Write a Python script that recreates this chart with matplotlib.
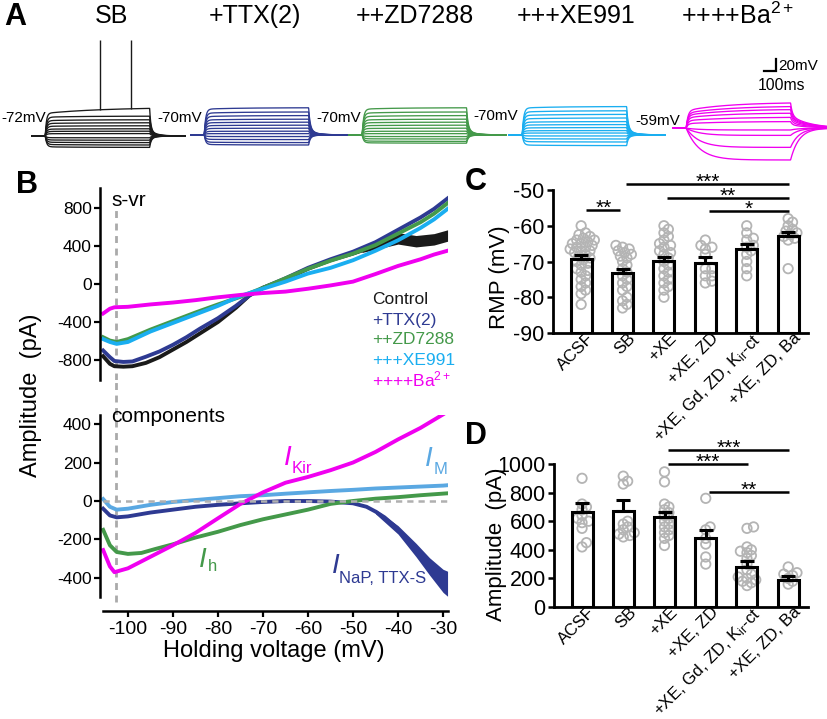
import numpy as np
import matplotlib
matplotlib.use('Agg')
import matplotlib.pyplot as plt
import matplotlib.transforms as mtransforms

plt.rcParams['font.family'] = ['Liberation Sans', 'DejaVu Sans']
plt.rcParams['mathtext.fontset'] = 'custom'
plt.rcParams['mathtext.rm'] = 'Liberation Sans'
plt.rcParams['mathtext.it'] = 'Liberation Sans:italic'
plt.rcParams['mathtext.bf'] = 'Liberation Sans:bold'
plt.rcParams['axes.unicode_minus'] = False

# ---------------- DATA ----------------
# Panel A: current-clamp sweeps
a_titles = ['SB', '+TTX(2)', '++ZD7288', '+++XE991', '++++Ba$^{2+}$']
a_rmp_labels = ['-72mV', '-70mV', '-70mV', '-70mV', '-59mV']
a_baseline_mv = [-72, -70, -70, -70, -59]
a_start_ms = [267, 1592, 2908, 4242, 5608]
a_sweep_ms = [1275, 1300, 1310, 1300, 1292]
a_onset_ms = 110
a_pulse_ms = 870
a_steps_mv = [
    [46, 33, 27, 22, 17, 12, 8, 4, -3, -7, -11, -15, -19],
    [45, 38, 32, 26, 21, 16, 11, 6, 2, -3, -8, -13, -17],
    [45, 38, 32, 26, 21, 16, 11, 6, 2, -3, -7, -11, -14],
    [47, 40, 34, 28, 22, 17, 12, 7, 3, -2, -7, -12, -18],
    [42, 36, 31, 25, 18, 11, -3, -12, -32, -53],
]
sb_spike_ms = [458, 717]
sb_spike_peak_mv = 88

# Panel B top: steady-state I-V (s-vr)
v_ctrl = [-105.5, -104, -103, -101, -99, -96, -93, -90, -87, -84, -80, -76, -73, -70, -65, -60, -55, -50, -45, -42, -40, -37, -35, -32, -29]
i_ctrl = [-760, -840, -865, -870, -865, -830, -770, -690, -610, -520, -400, -250, -120, -40, 50, 160, 250, 320, 400, 460, 480, 470, 430, 470, 510]
ctrl_band_v = [-48, -44, -40, -36, -32, -29]
ctrl_band_hw = [20, 45, 60, 60, 60, 60]
v_ttx = [-105.5, -104, -103, -101, -99, -96, -93, -90, -87, -84, -80, -76, -73, -70, -65, -60, -55, -50, -45, -40, -35, -32, -29]
i_ttx = [-700, -770, -810, -820, -815, -765, -710, -640, -560, -470, -360, -230, -120, -40, 60, 170, 260, 340, 440, 570, 700, 790, 900]
v_zd = [-105.5, -104, -102.5, -100, -95, -90, -85, -80, -75, -70, -65, -60, -55, -50, -45, -40, -35, -32, -29]
i_zd = [-560, -595, -610, -580, -480, -390, -300, -215, -135, -40, 60, 160, 245, 320, 410, 530, 650, 740, 850]
v_xe = [-105.5, -104, -102.5, -100, -95, -90, -85, -80, -75, -70, -65, -60, -55, -50, -45, -40, -35, -32, -29]
i_xe = [-580, -610, -630, -610, -500, -410, -320, -230, -125, -50, 25, 110, 170, 250, 350, 460, 590, 680, 790]
v_ba = [-105.5, -104, -103, -100, -95, -90, -85, -80, -75, -70, -65, -60, -55, -50, -45, -40, -35, -32, -29]
i_ba = [-310, -260, -245, -240, -215, -195, -170, -140, -115, -95, -80, -50, -15, 25, 105, 190, 260, 310, 350]
legend_labels = ['Control', '+TTX(2)', '++ZD7288', '+++XE991', '++++Ba$^{2+}$']

# Panel B bottom: subtracted components
v_kir = [-105.5, -104, -103, -100, -95, -90, -85, -80, -75, -70, -65, -60, -55, -50, -45, -40, -35, -30, -29]
i_kir = [-255, -340, -370, -350, -290, -230, -166, -90, -15, 45, 95, 125, 160, 200, 255, 320, 380, 450, 465]
v_h = [-105.5, -104, -102.5, -100, -97, -94, -90, -85, -80, -75, -70, -65, -60, -55, -50, -45, -40, -35, -29]
i_h = [-150, -230, -265, -275, -270, -250, -225, -190, -160, -125, -95, -70, -45, -15, 0, 12, 20, 30, 40]
v_m = [-105.5, -104, -102.5, -100, -95, -90, -85, -80, -75, -70, -65, -60, -55, -50, -45, -40, -35, -30, -29]
i_m = [10, -30, -45, -40, -20, -5, 5, 15, 25, 30, 38, 45, 52, 58, 65, 70, 75, 80, 82]
v_nap = [-105.5, -104, -102.5, -100, -95, -90, -85, -80, -75, -70, -65, -60, -55, -50, -47, -45, -43, -41, -39, -37, -35, -33, -31, -29]
i_nap = [-40, -75, -85, -80, -60, -45, -30, -20, -12, -5, 0, 0, -3, -12, -30, -55, -85, -125, -175, -225, -285, -340, -400, -430]
nap_band_v = [-45, -40, -36, -33, -30, -29]
nap_band_hw = [12, 22, 35, 45, 60, 65]

# Panels C and D: groups
groups = ['ACSF', 'SB', '+XE', '+XE, ZD', '+XE, Gd, ZD, K$_{\\mathrm{ir}}$-ct', '+XE, ZD, Ba']
rmp_mean = [-69.3, -73.1, -69.9, -70.4, -66.6, -62.9]
rmp_sem = [1.1, 1.1, 1.2, 1.7, 1.4, 1.2]
rmp_points = [
    [-60, -62, -62.5, -63, -63.5, -64, -64, -64.5, -65, -65, -65.5, -66, -66, -66.5, -67, -67, -67.5, -68,
     -68.5, -69, -69.5, -70, -70.5, -71, -72, -72.5, -73, -74, -75, -76, -77, -78, -79, -82],
    [-65.5, -66, -66.5, -67, -67.5, -68, -68.5, -69, -70, -71, -72, -73, -74, -75, -76, -77, -78, -80, -81, -82, -83],
    [-60, -61, -62, -63, -64, -65, -65.5, -66, -67, -67.5, -68, -69, -70, -71, -72, -73, -74, -75, -76, -77, -78, -80],
    [-64, -65.5, -66, -66.5, -68, -72, -72, -74, -74, -75.5, -76],
    [-60, -62, -63.5, -64, -65.5, -66, -67, -68, -70, -72, -74],
    [-58, -59, -60, -61, -61.5, -62, -62.5, -63, -63.5, -64, -72],
]
rmp_sig = [(0, 1, -55.6, '**'), (1, 5, -48.3, '***'), (2, 5, -52.1, '**'), (3, 5, -55.8, '*')]

amp_mean = [663, 673, 627, 482, 283, 192]
amp_sem = [63, 72, 40, 56, 42, 24]
amp_points = [
    [900, 720, 700, 680, 640, 620, 600, 590, 550, 450, 420],
    [915, 880, 860, 600, 580, 560, 540, 520, 510, 500, 490],
    [945, 875, 720, 700, 680, 660, 640, 620, 600, 580, 560, 540, 520, 500, 480, 430],
    [760, 560, 540, 480, 440, 350, 300],
    [560, 550, 420, 400, 390, 380, 360, 340, 300, 260, 230, 210, 200, 190, 180, 170, 150],
    [280, 240, 230, 220, 200, 180, 160],
]
amp_sig = [(2, 5, 1100, '***'), (2, 4, 1002, '***'), (3, 5, 805, '**')]

# ---------------- STYLE ----------------
C_BLACK = '#1a1a1a'
C_BLUE = '#2e3a92'
C_GREEN = '#44994a'
C_CYAN = '#1aaef0'
C_MAG = '#f000f0'
C_LBLUE = '#5aa8e2'
C_GRAY = '#b4b4b4'
a_colors = [C_BLACK, C_BLUE, C_GREEN, C_CYAN, C_MAG]

W, H = 828, 719
fig = plt.figure(figsize=(W / 100, H / 100), dpi=100)


def px_axes(left, top, right, bottom):
    return fig.add_axes([left / W, 1 - bottom / H, (right - left) / W, (bottom - top) / H])


def ftext(x, y, s, **kw):
    return fig.text(x / W, 1 - y / H, s, **kw)


# ---------------- PANEL A ----------------
axA = px_axes(0, 0, W, 170)
axA.set_xlim(0, 6900)
axA.set_ylim(-128.7, 154.7)
axA.axis('off')


def sweep_shape(t, dv, fast_on, slow_on, frac_slow_on, fast_off, slow_off, frac_slow_off):
    out = np.zeros_like(t)
    on = (t >= a_onset_ms) & (t < a_onset_ms + a_pulse_ms)
    s = t[on] - a_onset_ms
    slow_norm = 1 - np.exp(-a_pulse_ms / slow_on)
    out[on] = dv * ((1 - frac_slow_on) * (1 - np.exp(-s / fast_on)) +
                    frac_slow_on * (1 - np.exp(-s / slow_on)) / slow_norm)
    post = t >= a_onset_ms + a_pulse_ms
    s2 = t[post] - a_onset_ms - a_pulse_ms
    out[post] = dv * ((1 - frac_slow_off) * np.exp(-s2 / fast_off) + frac_slow_off * np.exp(-s2 / slow_off))
    return out


for k in range(5):
    t = np.linspace(0, a_sweep_ms[k], 900)
    for j, dv in enumerate(a_steps_mv[k]):
        if k < 4:
            if j == 0 and k == 0:
                prm = (10, 500, 0.18, 10, 60, 0.2)
            else:
                prm = (12, 300, 0.05, 12, 50, 0.25)
        else:
            if dv > 0:
                prm = (15, 350, 0.3, 15, 160, 0.5)
            else:
                prm = (110, 300, 0.0, 70, 200, 0.0)
        v = a_baseline_mv[k] + sweep_shape(t, dv, *prm)
        axA.plot(a_start_ms[k] + t, v, color=a_colors[k], lw=0.95, solid_joinstyle='round')
    if k == 0:
        top = a_steps_mv[0][0]
        for ts in sb_spike_ms:
            tt = np.array([a_onset_ms + ts])
            vbase = a_baseline_mv[0] + sweep_shape(tt, top, 10, 500, 0.18, 10, 60, 0.2)[0]
            axA.vlines(a_start_ms[0] + a_onset_ms + ts, vbase, sb_spike_peak_mv, color=C_BLACK, lw=1.0)

title_x = [111, 255, 415, 576, 738]
for k in range(5):
    ftext(title_x[k], 16, a_titles[k], fontsize=18, ha='center', va='center')
label_x = [1, 202, 361, 518, 680]
label_y = [118, 118, 118, 116, 121]
for k in range(5):
    ftext(label_x[k], label_y[k], a_rmp_labels[k], fontsize=11,
          ha='left' if k == 0 else 'right', va='center')
# scale bar 20 mV / 100 ms
sb_x, sb_y = 6467, 36.3
axA.plot([sb_x - 100, sb_x, sb_x], [sb_y, sb_y, sb_y + 20], color='k', lw=1.6, solid_joinstyle='miter')
ftext(778, 66, '20mV', fontsize=11, ha='left', va='center')
ftext(782, 85, '100ms', fontsize=11.3, ha='center', va='center')

# ---------------- PANEL B ----------------
XL = (-106.2, -28.9)
axT = px_axes(100, 188, 448, 380)
axB = px_axes(100, 415, 448, 597)

for ax in (axT, axB):
    ax.set_xlim(*XL)
    for s in ('top', 'right'):
        ax.spines[s].set_visible(False)
    ax.spines['left'].set_linewidth(1.8)
    ax.tick_params(axis='y', width=1.6, length=4, labelsize=12.5, pad=2)
    ax.patch.set_alpha(0)

axT.set_ylim(-1010, 1010)
axT.spines['bottom'].set_visible(False)
axT.set_xticks([])
axT.set_yticks([800, 400, 0, -400, -800])
axT.set_yticklabels(['800', '400', '0', '-400', '-800'])

axB.set_ylim(-499, 447)
axB.set_yticks([400, 200, 0, -200, -400])
axB.set_yticklabels(['400', '200', '0', '-200', '-400'])
axB.spines['bottom'].set_position(('outward', 10))
axB.spines['bottom'].set_bounds(-105.5, XL[1])
axB.spines['bottom'].set_linewidth(1.8)
axB.set_xticks([-100, -90, -80, -70, -60, -50, -40, -30])
axB.set_xticklabels(['-100', '-90', '-80', '-70', '-60', '-50', '-40', '-30'])
axB.tick_params(axis='x', width=1.6, length=4, labelsize=14, pad=3)
axB.set_xlabel('Holding voltage (mV)', fontsize=17, labelpad=2)

LW = 2.8
axT.fill_between(ctrl_band_v, np.interp(ctrl_band_v, v_ctrl, i_ctrl) - np.array(ctrl_band_hw),
                 np.interp(ctrl_band_v, v_ctrl, i_ctrl) + np.array(ctrl_band_hw), color=C_BLACK, lw=0)
axT.plot(v_ctrl, i_ctrl, color=C_BLACK, lw=LW)
axT.plot(v_ttx, i_ttx, color=C_BLUE, lw=LW)
axT.plot(v_zd, i_zd, color=C_GREEN, lw=LW)
axT.plot(v_xe, i_xe, color=C_CYAN, lw=LW)
axT.plot(v_ba, i_ba, color=C_MAG, lw=LW)

axT.axvline(-102.7, ymin=0, ymax=0.9, color='#aaaaaa', lw=2, ls=(0, (2.5, 2)), zorder=0.5)
axB.axvline(-102.7, ymin=-0.03, ymax=1.2, color='#aaaaaa', lw=2, ls=(0, (2.5, 2)), zorder=0.5, clip_on=False)

axT.text(-103.7, 874, 's-vr', fontsize=15, ha='left', va='center')
leg_y = [-158, -379, -589, -800, -1000]
for lab, col, yy in zip(legend_labels, a_colors, leg_y):
    axT.text(-45.8, yy, lab, fontsize=12.5, color=col, ha='left', va='center', clip_on=False)

axB.plot(v_m, i_m, color=C_LBLUE, lw=LW)
axB.fill_between(nap_band_v, np.interp(nap_band_v, v_nap, i_nap) - np.array(nap_band_hw),
                 np.interp(nap_band_v, v_nap, i_nap) + np.array(nap_band_hw), color=C_BLUE, lw=0)
axB.plot(v_nap, i_nap, color=C_BLUE, lw=LW)
axB.plot(v_h, i_h, color=C_GREEN, lw=LW)
axB.plot(v_kir, i_kir, color=C_MAG, lw=LW)
axB.axhline(0, xmin=0.01, color='#b0b0b0', lw=1.8, ls=(0, (2.5, 2)), zorder=5)

axB.text(-103.7, 441, 'components', fontsize=15, ha='left', va='center', clip_on=False)


def bpx(x, y):
    """figure pixel -> data coords of lower panel B"""
    return -106.2 + (x - 100) / 4.5, (501 - y) / 38.5 * 200


def comp_label(x, y, sub, sx, sy, col, subsize=12):
    xd, yd = bpx(x, y)
    axB.text(xd, yd, 'I', fontsize=20, fontstyle='italic', color=col, ha='left', va='baseline')
    xs, ys = bpx(sx, sy)
    axB.text(xs, ys, sub, fontsize=subsize, color=col, ha='left', va='baseline')


comp_label(284, 465, 'Kir', 292, 473, C_MAG)
comp_label(425, 466, 'M', 433, 474, C_LBLUE)
comp_label(199, 567, 'h', 208, 571, C_GREEN)
comp_label(332, 573, 'NaP, TTX-S', 339, 583, C_BLUE, subsize=12)

ftext(31, 395, 'Amplitude  (pA)', fontsize=17, rotation=90, ha='center', va='center')

# ---------------- PANELS C & D ----------------
PPX = 41.4  # px per bar unit


def swarm_offsets(vals, ppy, d=5.0, maxoff=0.42):
    placed = []
    order = np.argsort(vals)
    res = [0.0] * len(vals)
    cands = [0.0]
    for k in range(1, 30):
        cands += [k * 2.2 / PPX, -k * 2.2 / PPX]
    for idx in order:
        y = vals[idx] * ppy
        chosen = None
        for c in cands:
            if abs(c) > maxoff:
                continue
            if all((c * PPX - px) ** 2 + (y - py) ** 2 >= d * d for px, py in placed):
                chosen = c
                break
        if chosen is None:
            chosen = cands[(len(placed) * 7) % 38 + 1]
            chosen = max(-maxoff, min(maxoff, chosen))
        placed.append((chosen * PPX, y))
        res[idx] = chosen
    return res


def bar_panel(ax, means, sems, points, base, ppy, sig):
    xs = np.arange(len(means))
    hts = [m - base for m in means]
    ax.bar(xs, hts, bottom=base, width=0.51, color='white', edgecolor='none', zorder=1)
    for i, pts in enumerate(points):
        offs = swarm_offsets(pts, ppy)
        ax.scatter(xs[i] + np.array(offs), pts, s=46, facecolors='none', edgecolors=C_GRAY,
                   linewidths=1.3, zorder=2, clip_on=False)
    ax.bar(xs, hts, bottom=base, width=0.51, color='none', edgecolor='black', linewidth=2.2, zorder=3)
    ax.errorbar(xs, means, yerr=[np.zeros(len(means)), sems], fmt='none', ecolor='black',
                elinewidth=2.2, capsize=5, capthick=2.2, zorder=4)
    for a, b, yy, st in sig:
        x0 = a + (0.12 if a == 0 else 0.08)
        x1 = b - (0.05 if b == 1 else -0.02)
        ax.plot([x0, x1], [yy, yy], color='black', lw=1.8, clip_on=False, solid_capstyle='butt')
        ax.annotate(st, ((x0 + x1) / 2, yy), xytext=(0, -3), textcoords='offset points',
                    ha='center', va='baseline', fontsize=15, annotation_clip=False)
    ax.set_xlim(-0.68, 5.48)
    for s in ('top', 'right'):
        ax.spines[s].set_visible(False)
    for s in ('left', 'bottom'):
        ax.spines[s].set_linewidth(2.0)
    ax.set_xticks(xs)
    ax.set_xticklabels(groups, rotation=45, ha='right', va='top', rotation_mode='anchor', fontsize=12.2)
    ax.tick_params(axis='x', length=0, pad=1)
    ax.tick_params(axis='y', width=1.8, length=4, labelsize=15.5, pad=2)
    shift = mtransforms.ScaledTranslation(5 / 100, 4 / 100, fig.dpi_scale_trans)
    for lbl in ax.get_xticklabels():
        lbl.set_transform(lbl.get_transform() + shift)


axC = px_axes(553, 190, 808, 333)
axC.set_ylim(-90, -50)
bar_panel(axC, rmp_mean, rmp_sem, rmp_points, -90, 3.57, rmp_sig)
axC.set_yticks([-50, -60, -70, -80, -90])
axC.set_yticklabels(['-50', '-60', '-70', '-80', '-90'])
ftext(500, 277, 'RMP (mV)', fontsize=16, rotation=90, ha='center', va='center')

axD = px_axes(554, 464, 808, 607)
axD.set_ylim(0, 1000)
bar_panel(axD, amp_mean, amp_sem, amp_points, 0, 0.143, amp_sig)
axD.set_yticks([0, 200, 400, 600, 800, 1000])
axD.set_yticklabels(['0', '200', '400', '600', '800', '1000'])
ftext(497, 544, 'Amplitude  (pA)', fontsize=16, rotation=90, ha='center', va='center')

# panel letters
for lab, x, y in [('A', 15, 17), ('B', 27, 185), ('C', 476, 182), ('D', 476, 436)]:
    ftext(x, y, lab, fontsize=22, fontweight='bold', ha='center', va='center')

fig.savefig('out.png', dpi=100)
